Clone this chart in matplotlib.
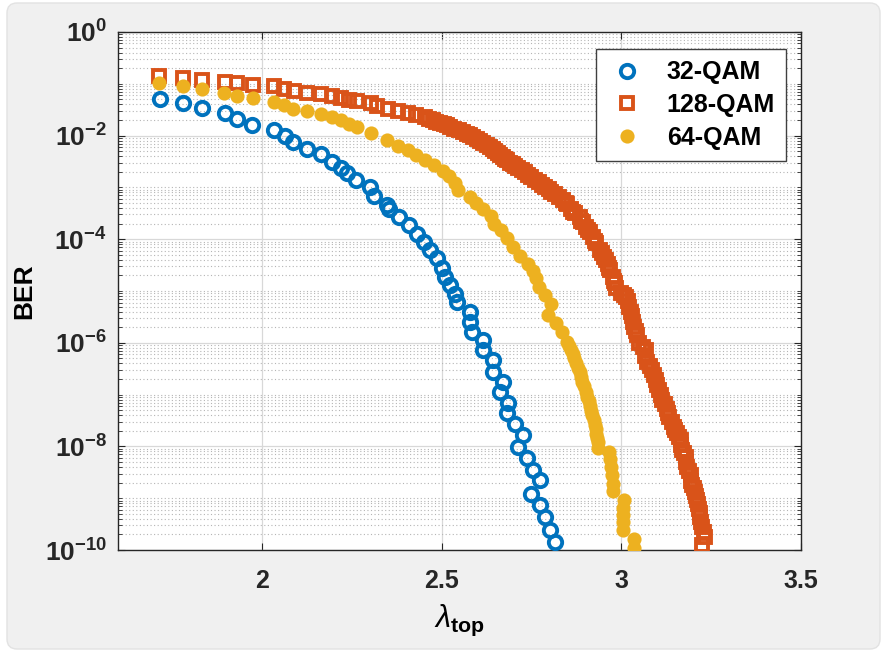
import matplotlib
matplotlib.use('Agg')
import matplotlib.pyplot as plt
import matplotlib.patches as mpatches
import matplotlib.transforms as mtrans
from matplotlib.ticker import LogLocator, NullFormatter, FixedLocator
import numpy as np

plt.rcParams['font.family'] = ['Liberation Sans', 'DejaVu Sans']
plt.rcParams['mathtext.fontset'] = 'custom'
plt.rcParams['mathtext.rm'] = 'Liberation Sans'
plt.rcParams['mathtext.it'] = 'Liberation Sans:italic'
plt.rcParams['mathtext.bf'] = 'Liberation Sans:bold'

# lambda_top vs log10(BER) for each modulation
x_32 = [1.716, 1.781, 1.834, 1.899, 1.930, 1.973, 2.035, 2.064, 2.086, 2.127,
        2.164, 2.196, 2.219, 2.238, 2.261, 2.302, 2.312, 2.349, 2.353, 2.381,
        2.409, 2.432, 2.450, 2.469, 2.487, 2.501, 2.510, 2.524, 2.538, 2.543,
        2.579, 2.579, 2.584, 2.616, 2.616, 2.644, 2.644, 2.672, 2.663, 2.686,
        2.681, 2.704, 2.727, 2.713, 2.737, 2.755, 2.773, 2.750, 2.773, 2.787,
        2.801, 2.815]
ber_32 = [-1.30, -1.37, -1.47, -1.57, -1.67, -1.79, -1.90, -2.01, -2.12, -2.25,
          -2.36, -2.50, -2.62, -2.72, -2.86, -2.99, -3.17, -3.34, -3.41, -3.57,
          -3.73, -3.89, -4.05, -4.20, -4.37, -4.55, -4.73, -4.89, -5.05, -5.21,
          -5.40, -5.60, -5.79, -5.95, -6.14, -6.34, -6.56, -6.75, -6.95, -7.17,
          -7.36, -7.56, -7.78, -8.01, -8.23, -8.46, -8.65, -8.91, -9.13, -9.36,
          -9.62, -9.84]

x_128 = [1.714, 1.782, 1.833, 1.897, 1.931, 1.975, 2.034, 2.063, 2.090, 2.127,
         2.164, 2.194, 2.219, 2.242, 2.266, 2.304, 2.321, 2.350, 2.379, 2.406,
         2.430, 2.454, 2.466, 2.475, 2.486, 2.496, 2.506, 2.515, 2.525, 2.535,
         2.548, 2.561, 2.570, 2.579, 2.589, 2.598, 2.607, 2.616, 2.626, 2.635,
         2.643, 2.650, 2.657, 2.663, 2.670, 2.676, 2.683, 2.690, 2.698, 2.705,
         2.714, 2.723, 2.731, 2.740, 2.750, 2.760, 2.770, 2.780, 2.789, 2.798,
         2.806, 2.815, 2.826, 2.838, 2.845, 2.850, 2.861, 2.866, 2.872, 2.884,
         2.888, 2.894, 2.903, 2.907, 2.912, 2.921, 2.926, 2.930, 2.940, 2.946,
         2.952, 2.958, 2.963, 2.966, 2.970, 2.977, 2.980, 2.982, 2.986, 3.000,
         3.008, 3.014, 3.018, 3.023, 3.027, 3.030, 3.033, 3.036, 3.042, 3.045,
         3.050, 3.060, 3.069, 3.066, 3.073, 3.080, 3.087, 3.090, 3.096, 3.100,
         3.105, 3.110, 3.114, 3.122, 3.128, 3.130, 3.133, 3.141, 3.147, 3.150,
         3.156, 3.162, 3.165, 3.166, 3.170, 3.176, 3.179, 3.180, 3.183, 3.189,
         3.193, 3.194, 3.197, 3.203, 3.206, 3.207, 3.211, 3.214, 3.216, 3.218,
         3.220, 3.223, 3.225, 3.230, 3.234, 3.225]
ber_128 = [-0.84, -0.88, -0.93, -0.96, -0.98, -1.02, -1.05, -1.10, -1.13, -1.17,
           -1.20, -1.24, -1.27, -1.32, -1.33, -1.38, -1.43, -1.49, -1.52, -1.56,
           -1.61, -1.64, -1.67, -1.70, -1.73, -1.76, -1.78, -1.80, -1.83, -1.87,
           -1.90, -1.93, -1.96, -1.99, -2.02, -2.06, -2.10, -2.15, -2.18, -2.22,
           -2.26, -2.30, -2.34, -2.38, -2.41, -2.45, -2.48, -2.52, -2.55, -2.59,
           -2.63, -2.67, -2.71, -2.76, -2.80, -2.85, -2.90, -2.95, -3.00, -3.04,
           -3.08, -3.12, -3.18, -3.25, -3.30, -3.33, -3.41, -3.47, -3.49, -3.57,
           -3.64, -3.66, -3.76, -3.83, -3.86, -3.96, -4.03, -4.08, -4.21, -4.27,
           -4.34, -4.40, -4.47, -4.55, -4.60, -4.73, -4.80, -4.84, -4.95, -5.03,
           -5.08, -5.11, -5.20, -5.31, -5.40, -5.48, -5.60, -5.70, -5.78, -5.85,
           -6.01, -6.08, -6.14, -6.25, -6.37, -6.45, -6.53, -6.62, -6.72, -6.82,
           -6.91, -7.01, -7.11, -7.19, -7.27, -7.35, -7.43, -7.53, -7.62, -7.69,
           -7.75, -7.82, -7.88, -7.98, -8.07, -8.13, -8.20, -8.30, -8.40, -8.48,
           -8.56, -8.66, -8.75, -8.81, -8.88, -8.96, -9.04, -9.12, -9.20, -9.28,
           -9.36, -9.45, -9.55, -9.65, -9.75, -9.91]

x_64 = [1.713, 1.781, 1.833, 1.896, 1.930, 1.975, 2.035, 2.063, 2.088, 2.127,
        2.165, 2.194, 2.219, 2.242, 2.266, 2.305, 2.349, 2.378, 2.406, 2.430,
        2.455, 2.480, 2.503, 2.520, 2.538, 2.547, 2.579, 2.596, 2.616, 2.637,
        2.646, 2.665, 2.681, 2.699, 2.718, 2.740, 2.755, 2.764, 2.771, 2.788,
        2.806, 2.797, 2.819, 2.834, 2.848, 2.855, 2.860, 2.866, 2.870, 2.875,
        2.879, 2.884, 2.888, 2.892, 2.896, 2.901, 2.905, 2.909, 2.912, 2.916,
        2.920, 2.923, 2.926, 2.929, 2.931, 2.933, 2.935, 2.935, 2.967, 2.970,
        2.972, 2.975, 2.976, 2.976, 3.008, 3.006, 3.004, 3.004, 3.004, 3.036,
        3.036]
ber_64 = [-0.98, -1.05, -1.10, -1.18, -1.23, -1.27, -1.35, -1.41, -1.48, -1.52,
          -1.59, -1.65, -1.70, -1.77, -1.84, -1.95, -2.09, -2.20, -2.28, -2.38,
          -2.48, -2.57, -2.69, -2.78, -2.92, -3.05, -3.18, -3.30, -3.42, -3.56,
          -3.70, -3.82, -3.98, -4.15, -4.32, -4.48, -4.62, -4.75, -4.92, -5.08,
          -5.26, -5.46, -5.62, -5.80, -5.98, -6.06, -6.14, -6.22, -6.30, -6.39,
          -6.48, -6.57, -6.66, -6.75, -6.84, -6.94, -7.04, -7.13, -7.22, -7.31,
          -7.40, -7.49, -7.58, -7.67, -7.76, -7.84, -7.92, -8.03, -8.11, -8.25,
          -8.40, -8.56, -8.72, -8.86, -9.04, -9.18, -9.32, -9.46, -9.62, -9.79,
          -9.97]

labels = ['32-QAM', '128-QAM', '64-QAM']
xticks = [2, 2.5, 3, 3.5]
yticks = [1e0, 1e-2, 1e-4, 1e-6, 1e-8, 1e-10]

blue = '#0072BD'
orange = '#D95319'
yellow = '#EDB120'

fig = plt.figure(figsize=(8.86, 6.53), dpi=100)
fig.patch.set_facecolor('white')

# grey window panel behind the axes
panel = mpatches.FancyBboxPatch((7, 4), 873, 646,
                                boxstyle='round,pad=0,rounding_size=10',
                                facecolor='#f0f0f0', edgecolor='#e2e2e2', lw=1,
                                transform=mtrans.IdentityTransform(), zorder=-10)
fig.patches.append(panel)

ax = fig.add_axes([0.1332, 0.1577, 0.7708, 0.7933])
ax.set_zorder(1)
ax.set_facecolor('white')

ax.semilogy(x_32, 10.0 ** np.array(ber_32), 'o', ls='none', ms=9.6, mew=2.8,
            mfc='none', mec=blue, label=labels[0], zorder=3)
ax.semilogy(x_128, 10.0 ** np.array(ber_128), 's', ls='none', ms=8.8, mew=2.8,
            mfc='none', mec=orange, label=labels[1], zorder=3)
ax.semilogy(x_64, 10.0 ** np.array(ber_64), 'o', ls='none', ms=10.2, mew=0,
            color=yellow, label=labels[2], zorder=3)

ax.set_xlim(1.6, 3.5)
ax.set_ylim(1e-10, 1e0)

ax.xaxis.set_major_locator(FixedLocator(xticks))
ax.set_xticklabels(['2', '2.5', '3', '3.5'], fontsize=18, fontweight='bold')
ax.yaxis.set_major_locator(FixedLocator(yticks))
ax.set_yticklabels([r'$\mathbf{10^{%d}}$' % int(np.log10(v)) for v in yticks],
                   fontsize=19)
ax.yaxis.set_minor_locator(LogLocator(base=10, subs=np.arange(1, 10), numticks=100))
ax.yaxis.set_minor_formatter(NullFormatter())

ax.tick_params(which='both', direction='in', top=True, right=True, colors='#262626')
ax.tick_params(which='major', length=5, width=0.8)
ax.tick_params(which='minor', length=3, width=0.6)
ax.tick_params(axis='x', pad=14)
ax.tick_params(axis='y', pad=8)

ax.grid(True, which='major', color='#d8d8d8', lw=0.9, ls='-', zorder=0)
ax.grid(True, which='minor', axis='y', color='#b5b5b5', lw=0.8, ls=(0, (1, 2.2)), zorder=0)
ax.set_axisbelow(True)

for s in ax.spines.values():
    s.set_color('#262626')
    s.set_linewidth(1.0)

ax.set_ylabel('BER', fontsize=19, fontweight='bold', labelpad=6)
ax.set_xlabel(r'$\lambda_{\mathbf{top}}$', fontsize=22, labelpad=7)

leg = ax.legend(loc='upper right', bbox_to_anchor=(0.9785, 0.967),
                prop={'weight': 'bold', 'size': 18}, frameon=True, fancybox=False,
                handletextpad=0.8, borderpad=0.45, labelspacing=0.35,
                handlelength=1.6, borderaxespad=0)
leg.get_frame().set_edgecolor('#404040')
leg.get_frame().set_linewidth(1.0)
leg.get_frame().set_alpha(1)

fig.savefig('out.png', dpi=100, facecolor=fig.get_facecolor())
